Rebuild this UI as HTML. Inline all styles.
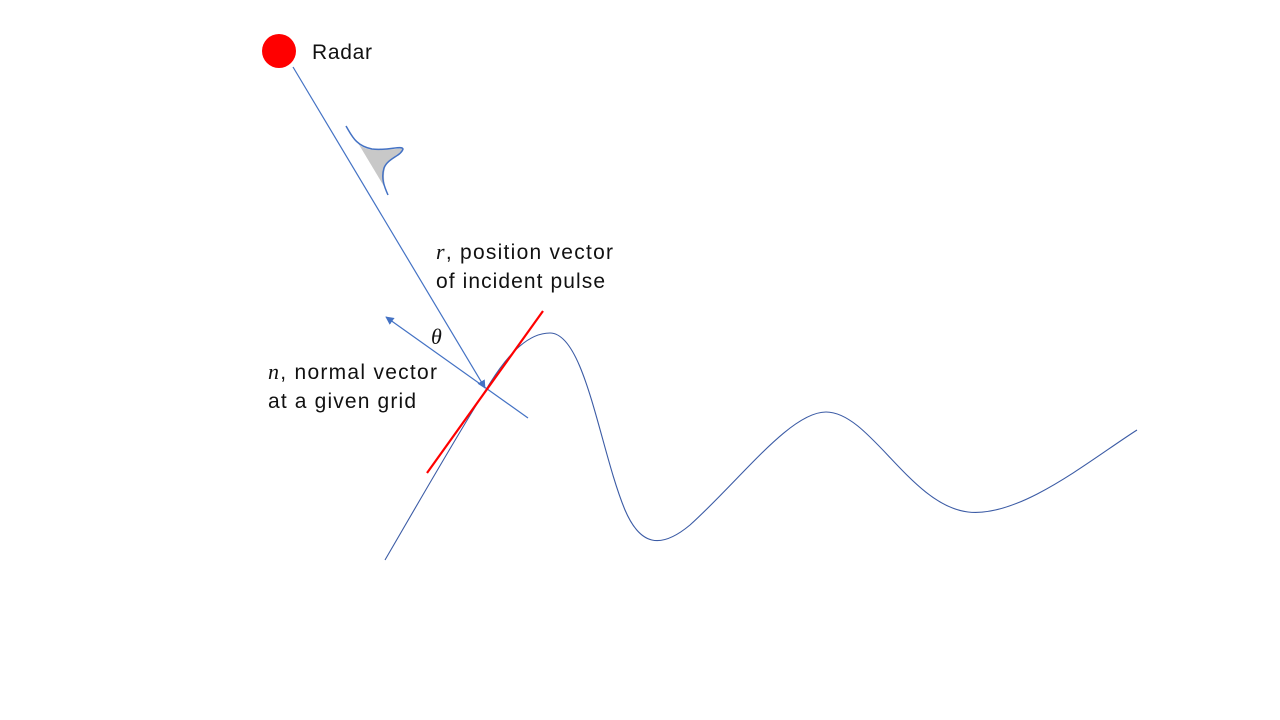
<!DOCTYPE html>
<html><head><meta charset="utf-8"><style>
html,body{margin:0;padding:0;background:#fff;}
svg{display:block;}
text{font-family:"Liberation Sans",sans-serif;font-size:21px;fill:#111;}
.it{font-family:"Liberation Serif",serif;font-style:italic;font-size:22px;}
</style></head><body>
<svg width="1280" height="720" viewBox="0 0 1280 720">
<defs>
<marker id="ah" viewBox="0 0 10 10" refX="9" refY="5" markerWidth="7" markerHeight="7" orient="auto-start-reverse">
<path d="M0,0 L10,5 L0,10 z" fill="#4472c4"/></marker>
</defs>
<circle cx="279" cy="51" r="17" fill="#ff0000"/>
<text x="312" y="59" textLength="60" lengthAdjust="spacing">Radar</text>
<line x1="293" y1="67" x2="485" y2="388" stroke="#4472c4" stroke-width="1.2" marker-end="url(#ah)"/>
<path d="M358,143 C362,148 368,150 380,150 C392,149 402,149 403,148 C400,155 390,158 386,165 C383,172 384,180 385,188 Z" fill="#c8c8c8"/>
<path d="M346,126 C352,136 356,146 372,149 C388,151 402,145 403,149 C401,156 388,158 384,168 C381,178 384,186 388,195" fill="none" stroke="#4472c4" stroke-width="1.5"/>
<line x1="528" y1="418" x2="386" y2="317" stroke="#4472c4" stroke-width="1.2" marker-end="url(#ah)"/>
<path d="M385,560 C420,500 460,430 487,388 C510,350 530,333 550,333 C585,333 600,450 625,510 C640,545 660,550 690,525 C740,480 790,412 826,412 C870,412 910,505 968,512 C1020,518 1090,460 1137,430" fill="none" stroke="#3b5ba5" stroke-width="1.1"/>
<line x1="427" y1="473" x2="543" y2="311" stroke="#ff0000" stroke-width="2.2"/>
<text class="it" x="431" y="344">θ</text>
<text x="436" y="259" textLength="177" lengthAdjust="spacing"><tspan class="it">r</tspan>, position vector</text>
<text x="436" y="288" textLength="169" lengthAdjust="spacing">of incident pulse</text>
<text x="268" y="379" textLength="169" lengthAdjust="spacing"><tspan class="it">n</tspan>, normal vector</text>
<text x="268" y="408" textLength="148" lengthAdjust="spacing">at a given grid</text>
</svg>
</body></html>
